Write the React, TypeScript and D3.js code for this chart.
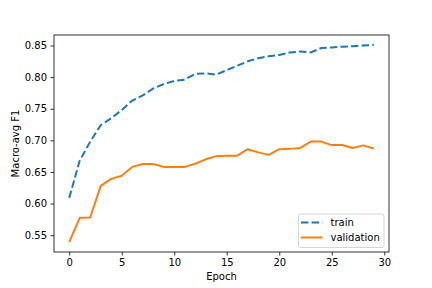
import * as d3 from "d3";
import React, { useEffect, useRef } from "react";

// Epoch indices on the x axis
const epochs: number[] = d3.range(0, 30);

// Macro-avg F1 per epoch
const trainF1: number[] = [
  0.609, 0.668, 0.698, 0.724, 0.735, 0.748, 0.763, 0.771, 0.782, 0.789,
  0.794, 0.796, 0.805, 0.806, 0.804, 0.811, 0.818, 0.825, 0.83, 0.833,
  0.835, 0.839, 0.8405, 0.839, 0.846, 0.847, 0.848, 0.849, 0.85, 0.851,
];
const validationF1: number[] = [
  0.539, 0.5775, 0.578, 0.628, 0.639, 0.644, 0.658, 0.6625, 0.6625, 0.658,
  0.658, 0.658, 0.663, 0.67, 0.675, 0.6757, 0.6757, 0.686, 0.681, 0.677,
  0.686, 0.6865, 0.688, 0.698, 0.698, 0.6925, 0.6925, 0.688, 0.692, 0.687,
];

const xTicks: number[] = [0, 5, 10, 15, 20, 25, 30];
const yTicks: number[] = [0.55, 0.6, 0.65, 0.7, 0.75, 0.8, 0.85];

const seriesNames: string[] = ["train", "validation"];
const seriesColors: string[] = ["#1f77b4", "#ff7f0e"];

const App: React.FC = () => {
  const chartRef = useRef<HTMLDivElement>(null);

  useEffect(() => {
    if (!chartRef.current) return;
    d3.select(chartRef.current).selectAll("*").remove();

    const width = 432,
      height = 288,
      margin = { top: 35, right: 43, bottom: 36, left: 54 };
    const font = "DejaVu Sans, sans-serif";
    const lw = 2;
    const dash = "7.4,3.2";

    const svg = d3
      .select(chartRef.current)
      .append("svg")
      .attr("width", width)
      .attr("height", height)
      .style("position", "absolute")
      .style("left", "0px")
      .style("top", "0px")
      .style("background", "#fff");

    // matplotlib style 5% margins on data range
    const xPad = (29 - 0) * 0.05;
    const xScale = d3
      .scaleLinear()
      .domain([0 - xPad, 29 + xPad])
      .range([margin.left, width - margin.right]);

    const allY = trainF1.concat(validationF1);
    const yMin = d3.min(allY)!,
      yMax = d3.max(allY)!;
    const yPad = (yMax - yMin) * 0.05;
    const yScale = d3
      .scaleLinear()
      .domain([yMin - yPad, yMax + yPad])
      .range([height - margin.bottom, margin.top]);

    const line = d3
      .line<number>()
      .x((_, i) => xScale(epochs[i]))
      .y((d) => yScale(d));

    // lines
    svg
      .append("path")
      .attr("d", line(trainF1)!)
      .attr("fill", "none")
      .attr("stroke", seriesColors[0])
      .attr("stroke-width", lw)
      .attr("stroke-dasharray", dash);

    svg
      .append("path")
      .attr("d", line(validationF1)!)
      .attr("fill", "none")
      .attr("stroke", seriesColors[1])
      .attr("stroke-width", lw)
      .attr("stroke-linejoin", "round");

    // x axis
    const xAxis = svg
      .append("g")
      .attr("transform", `translate(0,${height - margin.bottom})`)
      .call(
        d3
          .axisBottom(xScale)
          .tickValues(xTicks)
          .tickSize(3.5)
          .tickPadding(3.5)
          .tickFormat((d) => `${d}`)
      );
    xAxis.select(".domain").remove();
    xAxis.selectAll(".tick line").attr("stroke", "#000").attr("stroke-width", 0.8);
    xAxis
      .selectAll(".tick text")
      .attr("fill", "#000")
      .style("font-family", font)
      .style("font-size", "10px");

    // y axis
    const yAxis = svg
      .append("g")
      .attr("transform", `translate(${margin.left},0)`)
      .call(
        d3
          .axisLeft(yScale)
          .tickValues(yTicks)
          .tickSize(3.5)
          .tickPadding(3.5)
          .tickFormat(d3.format(".2f"))
      );
    yAxis.select(".domain").remove();
    yAxis.selectAll(".tick line").attr("stroke", "#000").attr("stroke-width", 0.8);
    yAxis
      .selectAll(".tick text")
      .attr("fill", "#000")
      .style("font-family", font)
      .style("font-size", "10px");

    // spines
    svg
      .append("rect")
      .attr("x", margin.left)
      .attr("y", margin.top)
      .attr("width", width - margin.left - margin.right)
      .attr("height", height - margin.top - margin.bottom)
      .attr("fill", "none")
      .attr("stroke", "#000")
      .attr("stroke-width", 0.8);

    // axis labels
    svg
      .append("text")
      .attr("x", (margin.left + width - margin.right) / 2)
      .attr("y", 279.5)
      .attr("text-anchor", "middle")
      .style("font-family", font)
      .style("font-size", "10px")
      .text("Epoch");

    svg
      .append("text")
      .attr(
        "transform",
        `translate(18.5,${(margin.top + height - margin.bottom) / 2}) rotate(-90)`
      )
      .attr("text-anchor", "middle")
      .style("font-family", font)
      .style("font-size", "10px")
      .text("Macro-avg F1");

    // legend
    const legend = svg.append("g").attr("transform", "translate(298.5,214)");
    legend
      .append("rect")
      .attr("width", 85.5)
      .attr("height", 33.5)
      .attr("rx", 2)
      .attr("fill", "#fff")
      .attr("fill-opacity", 0.8)
      .attr("stroke", "#ccc")
      .attr("stroke-width", 0.8);

    const items = legend
      .selectAll("g.item")
      .data(seriesNames)
      .enter()
      .append("g")
      .attr("class", "item")
      .attr("transform", (_, i) => `translate(0,${8.5 + i * 15})`);

    items
      .append("line")
      .attr("x1", 2.5)
      .attr("x2", 24)
      .attr("y1", 0)
      .attr("y2", 0)
      .attr("stroke", (_, i) => seriesColors[i])
      .attr("stroke-width", lw)
      .attr("stroke-dasharray", (_, i) => (i === 0 ? dash : null));

    items
      .append("text")
      .attr("x", 32)
      .attr("y", 3.6)
      .style("font-family", font)
      .style("font-size", "10px")
      .attr("fill", "#000")
      .text((d) => d);
  }, []);

  return <div ref={chartRef}></div>;
};

export default App;
